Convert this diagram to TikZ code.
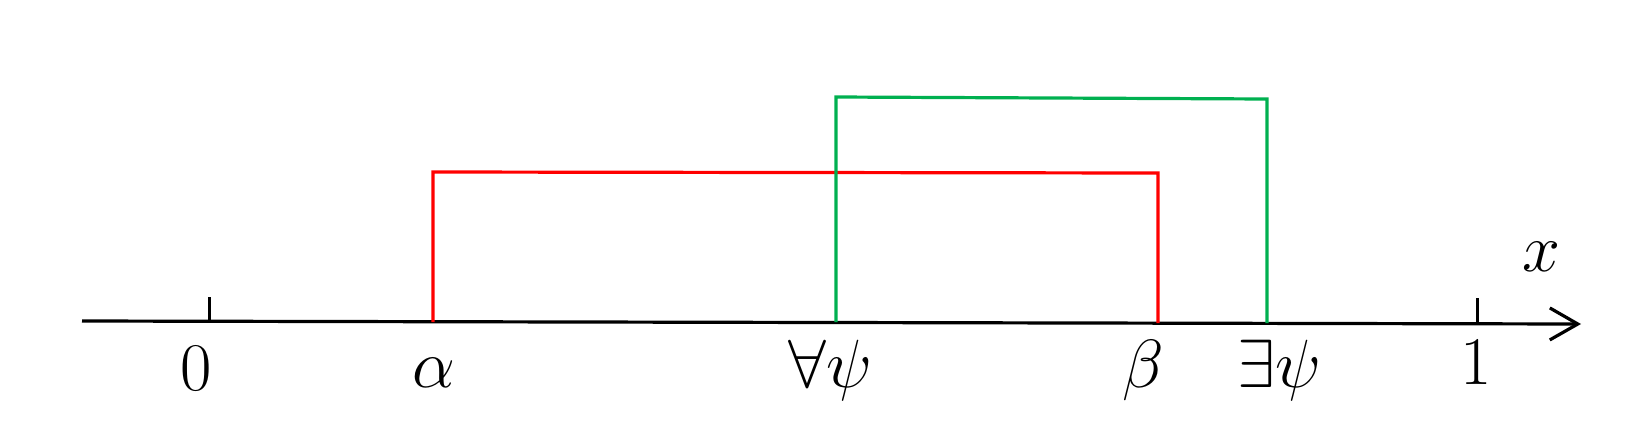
\documentclass[tikz,border=0pt]{standalone}
\usetikzlibrary{arrows.meta}
\definecolor{myred}{RGB}{255,0,0}
\definecolor{mygreen}{RGB}{0,176,80}
\begin{document}
\begin{tikzpicture}[x=0.5pt,y=-0.5pt,
  axisline/.style={line width=1.6pt,black},
  tickline/.style={line width=1.5pt,black},
  redline/.style={line width=1.6pt,myred,line join=miter},
  greenline/.style={line width=1.6pt,mygreen,line join=miter},
  lbl/.style={inner sep=0pt,font=\Huge,scale=1.37}]
\useasboundingbox (0,0) rectangle (1647,445);
% axis
\coordinate (s) at (82,321);
\coordinate (e) at (1581,324);
\draw[axisline,-{Straight Barb[length=14pt,width=16pt,line width=1.6pt]}] (s) -- (e);
% ticks
\coordinate (t0a) at (209,297); \coordinate (t0b) at (209,321);
\coordinate (t1a) at (1477,298); \coordinate (t1b) at (1477,324);
\draw[tickline] (t0a) -- (t0b);
\draw[tickline] (t1a) -- (t1b);
% red interval
\coordinate (ra) at (433,322); \coordinate (rat) at (433,172);
\coordinate (rbt) at (1158,173); \coordinate (rb) at (1158,323);
\draw[redline] (ra) -- (rat) -- (rbt) -- (rb);
% green interval
\coordinate (ga) at (836,322); \coordinate (gat) at (836,97);
\coordinate (gbt) at (1267,99); \coordinate (gb) at (1267,323);
\draw[greenline] (ga) -- (gat) -- (gbt) -- (gb);
% labels
\node[lbl] (l0) at (196,369) {$0$};
\node[lbl] (lal) at (434,373) {$\alpha$};
\node[lbl] (lfa) at (830,370) {$\forall\psi$};
\node[lbl] (lbe) at (1143,370) {$\beta$};
\node[lbl] (lex) at (1279,370) {$\exists\psi$};
\node[lbl] (l1) at (1476,363) {$1$};
\node[lbl] (lx) at (1541,257) {$x$};
\end{tikzpicture}
\end{document}
